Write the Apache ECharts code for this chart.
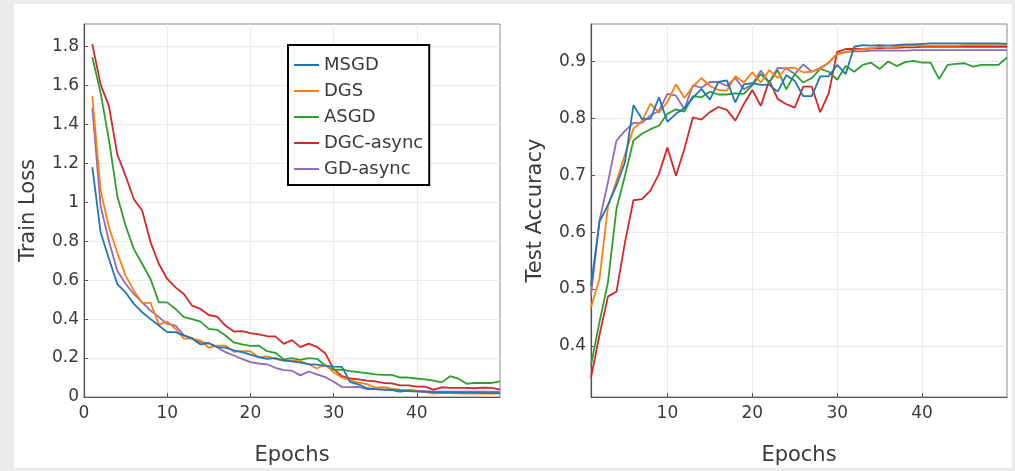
<!DOCTYPE html>
<html>
<head>
<meta charset="utf-8">
<script src="https://cdn.jsdelivr.net/npm/echarts@6/dist/echarts.min.js"></script>
<style>
  html, body { margin: 0; padding: 0; background: #ececec; }
  #panel { position: absolute; left: 14px; top: 4px; width: 998px; height: 464px; background: #ffffff; }
  #chart { position: absolute; left: 0; top: 0; width: 1015px; height: 471px; }
</style>
</head>
<body>
<div id="panel"></div>
<div id="chart"></div>
<script>
// Training runs: 50 epochs, five optimisers
const epochs = Array.from({ length: 50 }, (_, i) => i + 1);
const seriesNames = ['MSGD', 'DGS', 'ASGD', 'DGC-async', 'GD-async'];
const seriesColors = ['#1f77b4', '#ff7f0e', '#2ca02c', '#d62728', '#9467bd'];

// Train loss per epoch
const lossMSGD = [1.18, 0.845, 0.71, 0.58, 0.537, 0.478, 0.435, 0.40, 0.367, 0.333,
  0.333, 0.316, 0.30, 0.27, 0.277, 0.256, 0.253, 0.24, 0.23, 0.217,
  0.205, 0.196, 0.20, 0.188, 0.183, 0.176, 0.169, 0.166, 0.16, 0.156,
  0.155, 0.076, 0.065, 0.045, 0.04, 0.038, 0.035, 0.032, 0.03, 0.028,
  0.027, 0.025, 0.024, 0.024, 0.023, 0.022, 0.022, 0.021, 0.02, 0.02];
const lossDGS = [1.544, 1.06, 0.87, 0.742, 0.623, 0.546, 0.483, 0.483, 0.372, 0.387,
  0.35, 0.30, 0.30, 0.29, 0.253, 0.264, 0.264, 0.232, 0.235, 0.235,
  0.203, 0.208, 0.196, 0.186, 0.188, 0.184, 0.168, 0.146, 0.168, 0.126,
  0.1, 0.085, 0.074, 0.066, 0.048, 0.05, 0.043, 0.038, 0.034, 0.031,
  0.025, 0.017, 0.02, 0.02, 0.019, 0.018, 0.018, 0.018, 0.017, 0.017];
const lossASGD = [1.745, 1.56, 1.32, 1.032, 0.879, 0.759, 0.683, 0.606, 0.486, 0.486,
  0.452, 0.41, 0.40, 0.387, 0.35, 0.345, 0.316, 0.28, 0.27, 0.262,
  0.264, 0.235, 0.227, 0.193, 0.2, 0.19, 0.2, 0.196, 0.162, 0.14,
  0.14, 0.133, 0.128, 0.123, 0.116, 0.114, 0.114, 0.1, 0.1, 0.095,
  0.091, 0.084, 0.075, 0.107, 0.094, 0.068, 0.073, 0.072, 0.072, 0.08];
const lossDGC = [1.812, 1.604, 1.493, 1.246, 1.135, 1.015, 0.956, 0.794, 0.683, 0.606,
  0.563, 0.529, 0.469, 0.452, 0.421, 0.413, 0.367, 0.336, 0.338, 0.328,
  0.321, 0.312, 0.311, 0.273, 0.292, 0.256, 0.274, 0.257, 0.225, 0.143,
  0.107, 0.095, 0.09, 0.084, 0.08, 0.072, 0.07, 0.06, 0.06, 0.053,
  0.053, 0.038, 0.05, 0.047, 0.047, 0.047, 0.045, 0.048, 0.047, 0.038];
const lossGD = [1.485, 0.98, 0.80, 0.648, 0.58, 0.529, 0.486, 0.444, 0.41, 0.375,
  0.367, 0.316, 0.302, 0.28, 0.276, 0.256, 0.23, 0.213, 0.196, 0.179,
  0.172, 0.168, 0.15, 0.138, 0.135, 0.111, 0.131, 0.116, 0.102, 0.078,
  0.052, 0.051, 0.052, 0.041, 0.04, 0.038, 0.037, 0.026, 0.036, 0.032,
  0.03, 0.029, 0.028, 0.028, 0.028, 0.027, 0.027, 0.027, 0.026, 0.026];

// Test accuracy per epoch
const accMSGD = [0.506, 0.618, 0.648, 0.682, 0.723, 0.823, 0.799, 0.799, 0.837, 0.794,
  0.808, 0.818, 0.836, 0.852, 0.833, 0.864, 0.867, 0.828, 0.86, 0.862,
  0.859, 0.859, 0.847, 0.876, 0.866, 0.839, 0.839, 0.874, 0.874, 0.894,
  0.878, 0.926, 0.929, 0.928, 0.929, 0.928, 0.929, 0.93, 0.93, 0.931,
  0.932, 0.932, 0.932, 0.932, 0.932, 0.932, 0.932, 0.932, 0.932, 0.931];
const accDGS = [0.468, 0.518, 0.645, 0.69, 0.736, 0.782, 0.795, 0.826, 0.81, 0.829,
  0.86, 0.836, 0.856, 0.871, 0.857, 0.85, 0.849, 0.874, 0.863, 0.881,
  0.863, 0.885, 0.871, 0.889, 0.889, 0.881, 0.882, 0.887, 0.898, 0.913,
  0.916, 0.92, 0.922, 0.923, 0.926, 0.924, 0.926, 0.928, 0.928, 0.928,
  0.928, 0.928, 0.928, 0.928, 0.929, 0.929, 0.929, 0.929, 0.929, 0.929];
const accASGD = [0.366, 0.442, 0.512, 0.641, 0.699, 0.761, 0.773, 0.781, 0.787, 0.808,
  0.816, 0.812, 0.839, 0.837, 0.847, 0.842, 0.842, 0.844, 0.843, 0.858,
  0.878, 0.863, 0.885, 0.851, 0.878, 0.863, 0.871, 0.887, 0.882, 0.868,
  0.892, 0.882, 0.894, 0.898, 0.887, 0.9, 0.892, 0.899, 0.901, 0.898,
  0.898, 0.869, 0.894, 0.896, 0.897, 0.891, 0.894, 0.894, 0.894, 0.907];
const accDGC = [0.344, 0.419, 0.487, 0.495, 0.582, 0.656, 0.658, 0.673, 0.702, 0.749,
  0.699, 0.746, 0.802, 0.798, 0.811, 0.82, 0.815, 0.796, 0.825, 0.85,
  0.822, 0.867, 0.834, 0.825, 0.819, 0.856, 0.856, 0.811, 0.844, 0.917,
  0.922, 0.922, 0.922, 0.923, 0.923, 0.924, 0.924, 0.925, 0.925, 0.926,
  0.926, 0.926, 0.926, 0.926, 0.926, 0.926, 0.926, 0.926, 0.926, 0.926];
const accGD = [0.489, 0.62, 0.688, 0.761, 0.778, 0.792, 0.792, 0.805, 0.813, 0.843,
  0.84, 0.816, 0.858, 0.854, 0.864, 0.864, 0.857, 0.871, 0.851, 0.86,
  0.884, 0.863, 0.889, 0.888, 0.878, 0.895, 0.882, 0.889, 0.898, 0.914,
  0.917, 0.918, 0.918, 0.919, 0.919, 0.919, 0.919, 0.919, 0.92, 0.92,
  0.92, 0.92, 0.92, 0.92, 0.92, 0.92, 0.92, 0.92, 0.92, 0.92];

// Tick values
const lossTicks = [0, 0.2, 0.4, 0.6, 0.8, 1, 1.2, 1.4, 1.6, 1.8];
const accTicks = [0.4, 0.5, 0.6, 0.7, 0.8, 0.9];
const epochTicksLoss = [0, 10, 20, 30, 40];
const epochTicksAcc = [10, 20, 30, 40];

const lossData = [lossMSGD, lossDGS, lossASGD, lossDGC, lossGD];
const accData = [accMSGD, accDGS, accASGD, accDGC, accGD];

const FONT = 'DejaVu Sans';
const TEXT = '#3a3a3a';

function pairs(values) {
  return epochs.map((e, i) => [e, values[i]]);
}

function xAxisFor(gridIndex, min, ticks) {
  return {
    type: 'value', gridIndex, min, max: 50,
    name: 'Epochs', nameLocation: 'middle', nameGap: 48,
    nameTextStyle: { fontFamily: FONT, fontSize: 21, color: TEXT },
    axisLine: { show: true, onZero: false, lineStyle: { color: '#555', width: 1.2 } },
    axisTick: { show: true, inside: true, length: 4, customValues: ticks, lineStyle: { color: '#555' } },
    axisLabel: { customValues: ticks, fontFamily: FONT, fontSize: 17, color: TEXT, margin: 8 },
    splitLine: { show: true, lineStyle: { color: '#ebebeb', width: 1 } }
  };
}

function yAxisFor(gridIndex, min, max, ticks, name) {
  return {
    type: 'value', gridIndex, min, max,
    name, nameLocation: 'middle', nameGap: 45,
    nameTextStyle: { fontFamily: FONT, fontSize: 21, color: TEXT },
    axisLine: { show: true, onZero: false, lineStyle: { color: '#555', width: 1.2 } },
    axisTick: { show: true, inside: true, length: 4, customValues: ticks, lineStyle: { color: '#555' } },
    axisLabel: { customValues: ticks, fontFamily: FONT, fontSize: 17, color: TEXT, margin: 5 },
    splitLine: { show: true, lineStyle: { color: '#ebebeb', width: 1 } }
  };
}

const series = [];
seriesNames.forEach((name, i) => {
  series.push({
    name, type: 'line', xAxisIndex: 0, yAxisIndex: 0,
    data: pairs(lossData[i]), symbol: 'none',
    lineStyle: { color: seriesColors[i], width: 1.8 }, itemStyle: { color: seriesColors[i] },
    z: 10 - i, animation: false
  });
});
seriesNames.forEach((name, i) => {
  series.push({
    name, type: 'line', xAxisIndex: 1, yAxisIndex: 1,
    data: pairs(accData[i]), symbol: 'none',
    lineStyle: { color: seriesColors[i], width: 1.8 }, itemStyle: { color: seriesColors[i] },
    z: 10 - i, animation: false
  });
});

const chart = echarts.init(document.getElementById('chart'), null, { renderer: 'canvas' });
chart.setOption({
  backgroundColor: 'transparent',
  animation: false,
  grid: [
    { left: 84, top: 24, width: 416, height: 374, show: true, borderColor: '#8a8a8a', borderWidth: 1, backgroundColor: 'transparent' },
    { left: 591, top: 24, width: 416, height: 374, show: true, borderColor: '#8a8a8a', borderWidth: 1, backgroundColor: 'transparent' }
  ],
  legend: {
    data: seriesNames,
    orient: 'vertical',
    left: 288, top: 45,
    padding: [10, 6, 6, 6],
    itemGap: 6,
    icon: 'rect',
    itemWidth: 25, itemHeight: 2,
    backgroundColor: '#ffffff',
    borderColor: '#000000', borderWidth: 2,
    textStyle: { fontFamily: FONT, fontSize: 18, color: TEXT, lineHeight: 20 }
  },
  xAxis: [xAxisFor(0, 0, epochTicksLoss), xAxisFor(1, 1, epochTicksAcc)],
  yAxis: [yAxisFor(0, 0, 1.915, lossTicks, 'Train Loss'), yAxisFor(1, 0.31, 0.966, accTicks, 'Test Accuracy')],
  series
});
</script>
</body>
</html>
